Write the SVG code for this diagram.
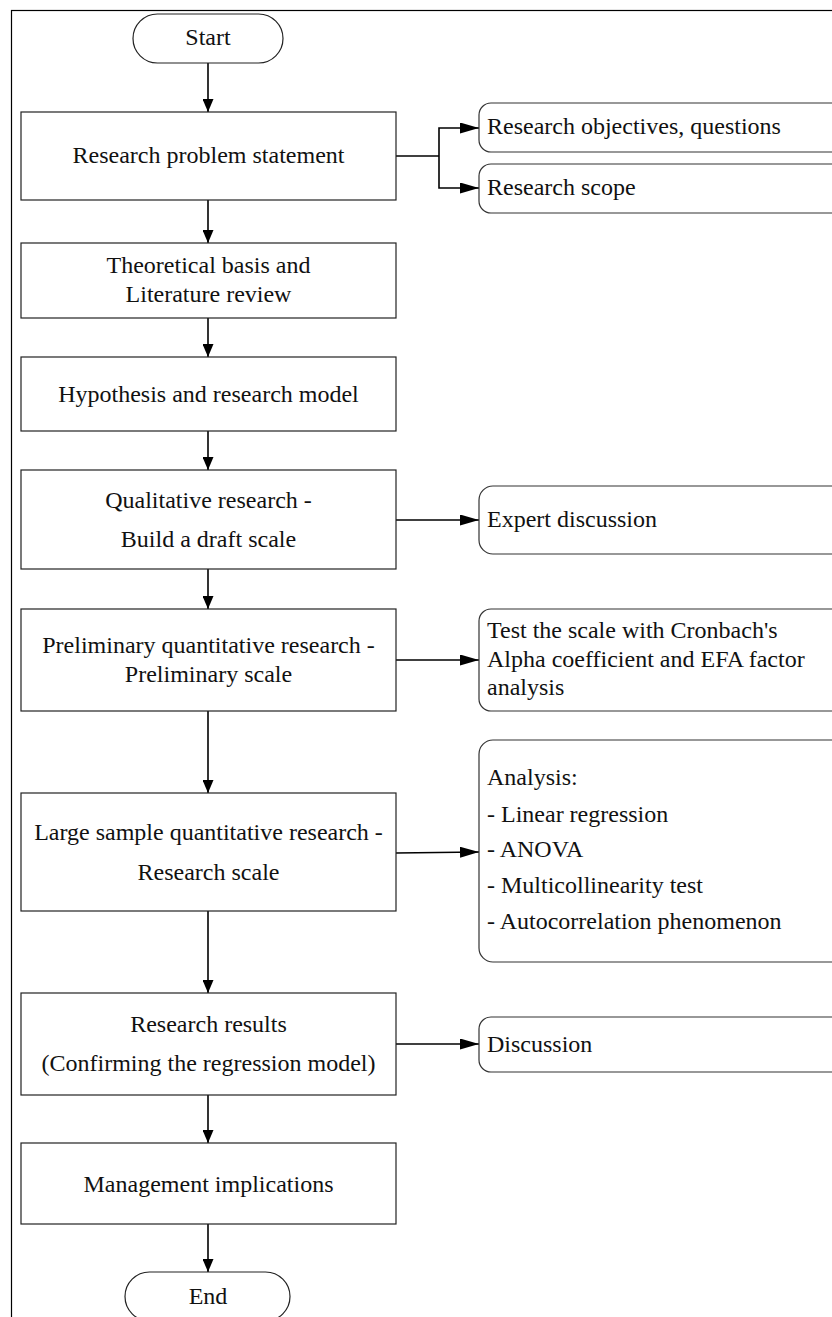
<svg xmlns="http://www.w3.org/2000/svg" width="832" height="1317" viewBox="0 0 832 1317">
<style>
.box{fill:#fff;stroke:#222;stroke-width:1.2}
.side{fill:#fff;stroke:#333;stroke-width:1.2}
.t{font-family:"Liberation Serif","Times New Roman",serif;font-size:24px;fill:#111}
.c{text-anchor:middle}
.con{fill:none;stroke:#000;stroke-width:1.6}
</style>
<defs>
<marker id="av" markerUnits="userSpaceOnUse" markerWidth="13" markerHeight="11" refX="13" refY="5.5" orient="auto">
<path d="M0,0 L13,5.5 L0,11 z" fill="#000"/>
</marker>
<marker id="ah" markerUnits="userSpaceOnUse" markerWidth="19" markerHeight="11" refX="19" refY="5.5" orient="auto">
<path d="M0,0 L19,5.5 L0,11 z" fill="#000"/>
</marker>
</defs>
<rect x="0" y="0" width="832" height="1317" fill="#fff"/>
<rect id="frame" x="11.5" y="10.5" width="900" height="1400" fill="none" stroke="#000" stroke-width="1.2"/>

<g id="connectors">
<line class="con" x1="208" y1="63" x2="208" y2="112" marker-end="url(#av)"/>
<line class="con" x1="208" y1="200" x2="208" y2="243" marker-end="url(#av)"/>
<line class="con" x1="208" y1="318" x2="208" y2="357" marker-end="url(#av)"/>
<line class="con" x1="208" y1="431" x2="208" y2="470" marker-end="url(#av)"/>
<line class="con" x1="208" y1="569" x2="208" y2="609" marker-end="url(#av)"/>
<line class="con" x1="208" y1="711" x2="208" y2="793" marker-end="url(#av)"/>
<line class="con" x1="208" y1="911" x2="208" y2="993" marker-end="url(#av)"/>
<line class="con" x1="208" y1="1095" x2="208" y2="1143" marker-end="url(#av)"/>
<line class="con" x1="208" y1="1224" x2="208" y2="1272" marker-end="url(#av)"/>
<polyline class="con" points="396,156 439,156"/>
<polyline class="con" points="439,156 439,128 479,128" marker-end="url(#ah)"/>
<polyline class="con" points="439,156 439,188 479,188" marker-end="url(#ah)"/>
<line class="con" x1="396" y1="520" x2="479" y2="520" marker-end="url(#ah)"/>
<line class="con" x1="396" y1="660" x2="479" y2="660" marker-end="url(#ah)"/>
<line class="con" x1="396" y1="853" x2="479" y2="852" marker-end="url(#ah)"/>
<line class="con" x1="396" y1="1044" x2="479" y2="1044" marker-end="url(#ah)"/>
</g>

<g id="start">
<rect class="box" x="133" y="14" width="150" height="49" rx="24.5"/>
<text class="t c" x="208" y="45">Start</text>
</g>
<g id="problem">
<rect class="box" x="21" y="112" width="375" height="88"/>
<text class="t c" x="208.5" y="163">Research problem statement</text>
</g>
<g id="objectives">
<rect class="side" x="479" y="103" width="400" height="49" rx="12"/>
<text class="t" x="487" y="134">Research objectives, questions</text>
</g>
<g id="scope">
<rect class="side" x="479" y="164" width="400" height="49" rx="12"/>
<text class="t" x="487" y="195">Research scope</text>
</g>
<g id="theory">
<rect class="box" x="21" y="243" width="375" height="75"/>
<text class="t c" x="208.5" y="273">Theoretical basis and</text>
<text class="t c" x="208.5" y="302">Literature review</text>
</g>
<g id="hypothesis">
<rect class="box" x="21" y="357" width="375" height="74"/>
<text class="t c" x="208.5" y="402">Hypothesis and research model</text>
</g>
<g id="qualitative">
<rect class="box" x="21" y="470" width="375" height="99"/>
<text class="t c" x="208.5" y="508">Qualitative research -</text>
<text class="t c" x="208.5" y="547">Build a draft scale</text>
</g>
<g id="expert">
<rect class="side" x="479" y="486" width="400" height="68" rx="14"/>
<text class="t" x="487" y="527">Expert discussion</text>
</g>
<g id="preliminary">
<rect class="box" x="21" y="609" width="375" height="102"/>
<text class="t c" x="208.5" y="653">Preliminary quantitative research -</text>
<text class="t c" x="208.5" y="682">Preliminary scale</text>
</g>
<g id="test">
<rect class="side" x="479" y="609" width="400" height="102" rx="12"/>
<text class="t" x="487" y="638">Test the scale with Cronbach's</text>
<text class="t" x="487" y="667">Alpha coefficient and EFA factor</text>
<text class="t" x="487" y="695">analysis</text>
</g>
<g id="large">
<rect class="box" x="21" y="793" width="375" height="118"/>
<text class="t c" x="208.5" y="840">Large sample quantitative research -</text>
<text class="t c" x="208.5" y="880">Research scale</text>
</g>
<g id="analysis">
<rect class="side" x="479" y="740" width="400" height="222" rx="14"/>
<text class="t" x="487" y="785">Analysis:</text>
<text class="t" x="487" y="822">- Linear regression</text>
<text class="t" x="487" y="857">- ANOVA</text>
<text class="t" x="487" y="893">- Multicollinearity test</text>
<text class="t" x="487" y="929">- Autocorrelation phenomenon</text>
</g>
<g id="results">
<rect class="box" x="21" y="993" width="375" height="102"/>
<text class="t c" x="208.5" y="1032">Research results</text>
<text class="t c" x="208.5" y="1071">(Confirming the regression model)</text>
</g>
<g id="discussion">
<rect class="side" x="479" y="1017" width="400" height="55" rx="12"/>
<text class="t" x="487" y="1052">Discussion</text>
</g>
<g id="management">
<rect class="box" x="21" y="1143" width="375" height="81"/>
<text class="t c" x="208.5" y="1192">Management implications</text>
</g>
<g id="end">
<rect class="box" x="125" y="1272" width="165" height="49" rx="24.5"/>
<text class="t c" x="208" y="1304">End</text>
</g>
</svg>
